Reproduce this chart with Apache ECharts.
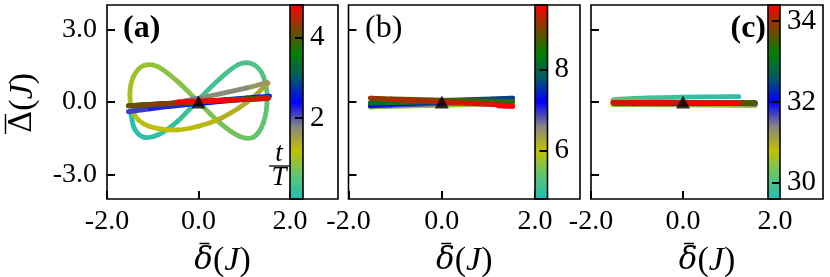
<!DOCTYPE html>
<html><head><meta charset="utf-8">
<script src="https://cdn.jsdelivr.net/npm/echarts@6/dist/echarts.min.js"></script>
<style>html,body{margin:0;padding:0;background:#fff}#c{width:830px;height:277px}</style>
</head><body><div id="c"></div>
<script>
// ---------- data ----------
const tA = [0,0.05,0.1,0.15,0.2,0.25,0.3,0.35,0.4,0.45,0.5,0.55,0.6,0.65,0.7,0.75,0.8,0.85,0.9,0.95,1.0,1.05,1.1,1.15,1.2,1.25,1.3,1.35,1.4,1.45,1.5,
  1.625,1.75,1.875,2.0,2.125,2.25,2.375,2.5,2.625,2.75,2.875,3.0,3.125,3.25,3.375,3.5,3.625,3.75,3.875,4.0,4.125,4.25,4.375,4.5,4.625,4.75,4.8];
const xA = [-1.48,-1.40,-1.20,-0.88,-0.46,0.00,0.46,0.88,1.20,1.42,1.50,1.42,1.20,0.88,0.46,0.00,-0.46,-0.88,-1.20,-1.42,-1.50,-1.42,-1.20,-0.88,-0.46,0.00,0.46,0.88,1.20,1.42,1.50,
  1.06,0.00,-1.06,-1.53,-1.06,0.00,1.06,1.55,1.06,0.00,-1.06,-1.53,-1.06,0.00,1.06,1.53,1.06,0.00,-1.06,-1.53,-1.06,0.00,1.06,1.53,1.06,0.00,-0.46];
const yA = [-0.45,-1.10,-1.45,-1.35,-0.80,0.10,0.95,1.55,1.55,1.05,0.15,-0.85,-1.45,-1.40,-0.85,0.00,0.85,1.45,1.50,1.05,0.30,-0.45,-0.90,-1.10,-1.15,-1.00,-0.70,-0.25,0.20,0.60,0.80,
  0.58,0.15,-0.22,-0.40,-0.28,-0.06,0.12,0.24,0.17,0.02,-0.10,-0.16,-0.12,0.00,0.12,0.18,0.13,0.01,-0.10,-0.15,-0.11,0.01,0.10,0.15,0.11,0.03,0.00];

const tB = [4.8,4.875,5.0,5.125,5.25,5.375,5.5,5.625,5.75,5.875,6.0,6.125,6.25,6.375,6.5,6.625,6.75,6.875,7.0,7.125,7.25,7.375,7.5,7.625,7.75,7.875,8.0,8.125,8.25,8.375,8.5,8.625,8.75,8.875,9.0,9.125,9.25,9.375,9.5,9.6];
const xB = [-0.46,-1.06,-1.53,-1.08,0.00,1.08,1.52,1.08,0.00,-1.08,-1.53,-1.08,0.00,1.08,1.52,1.08,0.00,-1.08,-1.53,-1.08,0.00,1.08,1.52,1.08,0.00,-1.08,-1.53,-1.08,0.00,1.08,1.52,1.08,0.00,-1.08,-1.53,-1.08,0.00,1.08,1.52,1.21];
const yB = [-0.08,-0.15,-0.20,-0.18,-0.13,-0.08,-0.06,-0.08,-0.12,-0.16,-0.18,-0.15,-0.08,-0.02,0.02,-0.01,-0.07,-0.13,-0.16,-0.10,0.00,0.10,0.16,0.13,0.06,0.00,-0.03,-0.02,0.00,0.02,0.02,0.04,0.08,0.13,0.16,0.10,0.00,-0.11,-0.18,-0.16];

const tC = [29.6,29.625,29.75,29.875,30.0,30.125,30.25,30.375,30.5,30.625,30.75,30.875,31.0,31.125,31.25,31.375,31.5,31.625,31.75,31.875,32.0,32.125,32.25,32.375,32.5,32.625,32.75,32.875,33.0,33.125,33.25,33.375,33.5,33.625,33.75,33.875,34.0,34.125,34.25,34.375,34.4];
const xC = [1.21,1.08,0.00,-1.07,-1.52,-1.07,0.00,1.10,1.57,1.10,0.00,-1.07,-1.52,-1.07,0.00,1.10,1.57,1.10,0.00,-1.07,-1.52,-1.07,0.00,1.10,1.57,1.10,0.00,-1.07,-1.52,-1.07,0.00,1.10,1.57,1.10,0.00,-1.07,-1.52,-1.07,0.00,1.10,1.21];
const yC = [0.22,0.22,0.20,0.15,0.08,0.04,-0.04,-0.11,-0.14,-0.14,-0.12,-0.11,-0.10,-0.10,-0.09,-0.08,-0.08,-0.07,-0.06,-0.05,-0.04,-0.04,-0.04,-0.04,-0.04,-0.04,-0.03,-0.02,-0.02,-0.02,-0.03,-0.04,-0.04,-0.04,-0.03,-0.02,-0.02,-0.02,-0.03,-0.04,-0.04];

const xTicks = [-2, 0, 2];
const yTicks = [-3, 0, 3];
const cbRanges = [[0, 4.8], [4.8, 9.6], [29.6, 34.4]];
const cbTicks = [[2, 4], [6, 8], [30, 32, 34]];
const panelLabels = ['(a)', '(b)', '(c)'];
const CMAP = ['#1fbfb8', '#62c46e', '#c2c000', '#858585', '#0000ff', '#005a66', '#008000', '#7a4400', '#ff0000'];

// ---------- layout ----------
const FONT = 'Liberation Serif';
const TOP = 5, H = 194;
const plotL = [107, 348.5, 591], plotW = [183, 186.5, 184];
const cbL = [290, 535, 768], cbW = [13, 12.5, 12];
const frameL = [107, 348.5, 591], frameW = [231, 231.5, 232];

function rows(t, x, y) { return t.map((v, i) => [x[i], y[i], v]); }
const datasets = [rows(tA, xA, yA), rows(tB, xB, yB), rows(tC, xC, yC)];

function renderSeg(params, api) {
  const i = params.dataIndexInside, n = params.dataInsideLength;
  if (i === 0) return null;
  const P = k => { k = Math.max(0, Math.min(n - 1, k)); return api.coord([api.value(0, k), api.value(1, k)]); };
  const p0 = P(i - 2), p1 = P(i - 1), p2 = P(i), p3 = P(i + 1);
  return {
    type: 'bezierCurve',
    shape: { x1: p1[0], y1: p1[1], x2: p2[0], y2: p2[1],
      cpx1: p1[0] + (p2[0] - p0[0]) / 6, cpy1: p1[1] + (p2[1] - p0[1]) / 6,
      cpx2: p2[0] - (p3[0] - p1[0]) / 6, cpy2: p2[1] - (p3[1] - p1[1]) / 6 },
    style: { stroke: api.visual('color'), lineWidth: 4.8, fill: 'none', lineCap: 'round' }
  };
}

const tickStyle = { color: '#000', width: 2 };
const grid = [], xAxis = [], yAxis = [], series = [], visualMap = [], graphic = [];
for (let p = 0; p < 3; p++) {
  grid.push({ left: plotL[p], top: TOP, width: plotW[p], height: H });
  xAxis.push({ gridIndex: p, type: 'value', min: -2, max: 2, position: 'bottom',
    axisLine: { show: false, onZero: false }, splitLine: { show: false },
    axisTick: { inside: true, length: 8, lineStyle: tickStyle, customValues: xTicks },
    axisLabel: { customValues: xTicks, formatter: v => v.toFixed(1), margin: 9, color: '#000', fontFamily: FONT, fontSize: 28 } });
  yAxis.push({ gridIndex: p, type: 'value', min: -4, max: 4, position: 'left',
    axisLine: { show: false, onZero: false }, splitLine: { show: false },
    axisTick: { inside: true, length: 8, lineStyle: tickStyle, customValues: yTicks },
    axisLabel: { show: p === 0, customValues: yTicks, formatter: v => v.toFixed(1), margin: 10, color: '#000', fontFamily: FONT, fontSize: 28 } });
}
for (let p = 0; p < 3; p++) {
  grid.push({ left: cbL[p], top: TOP, width: cbW[p], height: H });
  xAxis.push({ gridIndex: 3 + p, type: 'value', show: false });
  yAxis.push({ gridIndex: 3 + p, type: 'value', position: 'right', min: cbRanges[p][0], max: cbRanges[p][1], z: 20,
    axisLine: { show: false, onZero: false }, splitLine: { show: false },
    axisTick: { inside: true, length: 8, lineStyle: tickStyle, customValues: cbTicks[p] },
    axisLabel: { customValues: cbTicks[p], margin: 7, color: '#000', fontFamily: FONT, fontSize: 29 } });
}
for (let p = 0; p < 3; p++) {
  series.push({ type: 'custom', xAxisIndex: p, yAxisIndex: p, data: datasets[p],
    dimensions: ['x', 'y', 't'], encode: { x: 0, y: 1 }, renderItem: renderSeg, z: 2, silent: true });
}
const titleRich = {
  g: { fontFamily: 'DejaVu Serif', fontSize: 31, fontStyle: 'italic', fill: '#000' },
  G: { fontFamily: 'DejaVu Serif', fontSize: 31, fill: '#000' },
  n: { fontFamily: FONT, fontSize: 34, fill: '#000' },
  i: { fontFamily: FONT, fontSize: 34, fontStyle: 'italic', fill: '#000' }
};
for (let p = 0; p < 3; p++) {
  series.push({ type: 'scatter', xAxisIndex: p, yAxisIndex: p, data: [[0, 0]], symbol: 'triangle',
    symbolSize: [14, 13], itemStyle: { color: '#000' }, z: 5, silent: true });
  visualMap.push({ type: 'continuous', seriesIndex: p, dimension: 2, min: cbRanges[p][0], max: cbRanges[p][1],
    inRange: { color: CMAP }, left: cbL[p], top: TOP, itemWidth: cbW[p], itemHeight: H, padding: 0,
    calculable: false, hoverLink: false, orient: 'vertical', z: 4 });
  graphic.push({ type: 'rect', z: 100, shape: { x: frameL[p], y: TOP, width: frameW[p], height: H },
    style: { fill: 'none', stroke: '#000', lineWidth: 1.6 } });
  graphic.push({ type: 'rect', z: 100, shape: { x: cbL[p], y: TOP, width: cbW[p], height: H },
    style: { fill: 'none', stroke: '#000', lineWidth: 1.6 } });
  const cx = frameL[p] + frameW[p] / 2;
  graphic.push({ type: 'text', z: 100, x: cx, y: 261,
    style: { text: '{g|\u03B4}{n|(}{i|J}{n|)}', align: 'center', verticalAlign: 'middle', rich: titleRich } });
  graphic.push({ type: 'line', z: 100, shape: { x1: cx - 23, y1: 243.5, x2: cx - 13, y2: 243.5 }, style: { stroke: '#000', lineWidth: 1.5 } });
}
graphic.push({ type: 'text', z: 100, x: 123, y: 29, style: { text: panelLabels[0], fontFamily: FONT, fontSize: 32, fontWeight: 'bold', fill: '#000', verticalAlign: 'middle' } });
graphic.push({ type: 'text', z: 100, x: 365, y: 29, style: { text: panelLabels[1], fontFamily: FONT, fontSize: 32, fill: '#000', verticalAlign: 'middle' } });
graphic.push({ type: 'text', z: 100, x: 766, y: 29, style: { text: panelLabels[2], fontFamily: FONT, fontSize: 32, fontWeight: 'bold', fill: '#000', align: 'right', verticalAlign: 'middle' } });
graphic.push({ type: 'text', z: 100, x: 23, y: 103, rotation: Math.PI / 2,
  style: { text: '{G|\u0394}{n|(}{i|J}{n|)}', align: 'center', verticalAlign: 'middle', rich: titleRich } });
graphic.push({ type: 'line', z: 100, shape: { x1: 5.5, y1: 114, x2: 5.5, y2: 134 }, style: { stroke: '#000', lineWidth: 1.5 } });
graphic.push({ type: 'text', z: 100, x: 279, y: 154, style: { text: 't', fontFamily: FONT, fontSize: 27, fontStyle: 'italic', fill: '#000', align: 'center', verticalAlign: 'middle' } });
graphic.push({ type: 'line', z: 100, shape: { x1: 269, y1: 166, x2: 289, y2: 166 }, style: { stroke: '#000', lineWidth: 1.3 } });
graphic.push({ type: 'text', z: 100, x: 279, y: 178, style: { text: 'T', fontFamily: FONT, fontSize: 27, fontStyle: 'italic', fill: '#000', align: 'center', verticalAlign: 'middle' } });

const chart = echarts.init(document.getElementById('c'), null, { renderer: 'canvas' });
chart.setOption({ animation: false, backgroundColor: '#fff', grid, xAxis, yAxis, series, visualMap, graphic });
</script></body></html>
